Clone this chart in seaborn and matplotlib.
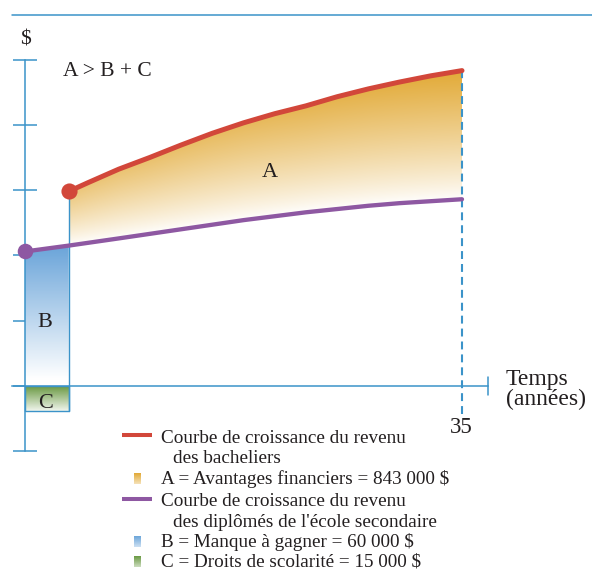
"""
Schematic: income growth of high-school graduates vs. bachelors.
A = financial benefits, B = lost earnings, C = tuition fees.
"""

import numpy as np
import pandas as pd
import matplotlib
matplotlib.use("Agg")  # no display
import matplotlib.pyplot as plt
from matplotlib.colors import to_rgb
from matplotlib.patches import Polygon, Rectangle
from matplotlib.lines import Line2D
import seaborn as sns

# ── data (time in years, income in axis-tick units) ─────────────────────────
YEARS_HS   = [0, 3.5, 7.5, 10, 12.5, 15, 17.5, 20, 22.5, 25, 27.5, 30, 32.5, 35]
INCOME_HS  = [2.06, 2.15, 2.26, 2.33, 2.40, 2.47, 2.54, 2.60, 2.66, 2.71, 2.76, 2.80, 2.83, 2.86]
YEARS_BAC  = [3.5, 5, 7.5, 10, 12.5, 15, 17.5, 20, 22.5, 25, 27.5, 30, 32.5, 35]
INCOME_BAC = [2.98, 3.11, 3.32, 3.50, 3.69, 3.87, 4.03, 4.17, 4.29, 4.43, 4.55, 4.655, 4.75, 4.83]
STUDY_YEARS = 3.5
TUITION     = 0.38          # depth of box C below the time axis
CAREER_END  = 35
Y_TICKS     = [-1, 0, 1, 2, 3, 4, 5]

LEGEND_LINES = [
    "Courbe de croissance du revenu",
    "des bacheliers",
    "A = Avantages financiers = 843 000 $",
    "Courbe de croissance du revenu",
    "des diplômés de l'école secondaire",
    "B = Manque à gagner = 60 000 $",
    "C = Droits de scolarité = 15 000 $",
]

# ── colours ────────────────────────────────────────────────────────────────
BLUE   = "#3b93c9"
RED    = "#d2473a"
PURPLE = "#8e58a2"
ORANGE = "#e2aa37"
SKY    = "#6da6da"
GREEN  = "#6b9a44"
INK    = "#231f20"

# ── pixel <-> data helpers (axes fill the whole figure) ─────────────────────
W, H = 592, 571
X0_PX, PX_PER_YEAR = 25, (462 - 25) / 35
Y0_PX, PX_PER_UNIT = 386, 65.3


def dx(px):
    return (px - X0_PX) / PX_PER_YEAR


def dy(py):
    return (Y0_PX - py) / PX_PER_UNIT


def ftext(px, py, s, **kw):
    kw.setdefault("color", INK)
    kw.setdefault("va", "baseline")
    fig.text(px / W, 1 - py / H, s, **kw)


def gradient(alpha, extent, color, clip=None, zorder=1):
    rgb = np.array(to_rgb(color))
    img = 1 - alpha[..., None] * (1 - rgb)
    im = ax.imshow(img, extent=extent, origin="lower", aspect="auto",
                   interpolation="bilinear", zorder=zorder)
    if clip is not None:
        im.set_clip_path(clip)
    return im


sns.set_theme(style="white")
plt.rcParams["font.family"] = ["Liberation Serif", "DejaVu Serif"]

fig = plt.figure(figsize=(W / 100, H / 100), dpi=100)
ax = fig.add_axes([0, 0, 1, 1])

# ── area A: between the two curves, orange fading to white ────────────────
hs_at_bac = np.interp(YEARS_BAC, YEARS_HS, INCOME_HS)
poly = ax.fill_between(YEARS_BAC, hs_at_bac, INCOME_BAC, facecolor="none", lw=0)
clip_a = Polygon(poly.get_paths()[0].vertices, closed=True, transform=ax.transData,
                 facecolor="none", edgecolor="none")
ax.add_patch(clip_a)
xs = np.linspace(STUDY_YEARS, CAREER_END, 400)
ys = np.linspace(1.9, 5.0, 300)
X, Y = np.meshgrid(xs, ys)
top = np.interp(X, YEARS_BAC, INCOME_BAC)
bot = np.interp(X, YEARS_HS, INCOME_HS)
t = np.clip((Y - bot) / (top - bot), 0, 1)
fade = 0.68 + 0.32 * (X - STUDY_YEARS) / (CAREER_END - STUDY_YEARS)
gradient(t ** 0.85 * fade, (xs[0], xs[-1], ys[0], ys[-1]), ORANGE, clip_a)

# ── box B: lost earnings during study years ─────────────────────────────────
b_years = [0, STUDY_YEARS]
b_top = np.interp(b_years, YEARS_HS, INCOME_HS)
poly_b = ax.fill_between(b_years, 0, b_top, facecolor="none", lw=0)
clip_b = Polygon(poly_b.get_paths()[0].vertices, closed=True, transform=ax.transData,
                 facecolor="none", edgecolor="none")
ax.add_patch(clip_b)
ys_b = np.linspace(0, 2.3, 200)
Yb = np.tile(ys_b[:, None], (1, 20))
gradient(np.clip((Yb - 0.1) / 2.0, 0, 1), (0, STUDY_YEARS, 0, 2.3), SKY, clip_b)

# ── box C: tuition below the axis ───────────────────────────────────────────
ys_c = np.linspace(-TUITION, 0, 60)
Yc = np.tile(ys_c[:, None], (1, 20))
gradient(0.1 + 0.9 * (Yc + TUITION) / TUITION, (0, STUDY_YEARS, -TUITION, 0), GREEN)
ax.add_patch(Rectangle((0, -TUITION), STUDY_YEARS, TUITION, facecolor="none",
                       edgecolor=BLUE, lw=1.0, zorder=2))
ax.plot([STUDY_YEARS, STUDY_YEARS], [-TUITION, INCOME_BAC[0]], color=BLUE, lw=1.0, zorder=2)

# ── axes ────────────────────────────────────────────────────────────────────
for side in ["top", "right"]:
    ax.spines[side].set_visible(False)
ax.spines["left"].set_position(("data", 0))
ax.spines["left"].set_bounds(Y_TICKS[0], Y_TICKS[-1])
ax.spines["bottom"].set_position(("data", 0))
ax.spines["bottom"].set_bounds(dx(12), dx(488))
for side in ["left", "bottom"]:
    ax.spines[side].set_color(BLUE)
    ax.spines[side].set_linewidth(1.1)
    ax.spines[side].set_zorder(2)
ax.set_yticks(Y_TICKS)
ax.set_yticklabels([])
ax.set_xticks([])
ax.tick_params(axis="y", left=True, direction="inout", length=17.3, width=1.1, color=BLUE)
ax.plot([dx(488), dx(488)], [dy(377), dy(395)], color=BLUE, lw=1.1)
ax.plot([CAREER_END, CAREER_END], [dy(414), dy(68)], color=BLUE, lw=1.5,
        dashes=(3.8, 2.4), zorder=2)
fig.add_artist(Line2D([12 / W, 1], [1 - 15 / H, 1 - 15 / H], transform=fig.transFigure,
                      color=BLUE, lw=1.1))

# ── income curves ──────────────────────────────────────────────────────────
hs = pd.DataFrame({"year": YEARS_HS, "income": INCOME_HS})
bac = pd.DataFrame({"year": YEARS_BAC, "income": INCOME_BAC})
sns.lineplot(data=hs, x="year", y="income", color=PURPLE, lw=3.1, ax=ax, zorder=3)
sns.lineplot(data=bac, x="year", y="income", color=RED, lw=3.6, ax=ax, zorder=3)
sns.scatterplot(x=[YEARS_HS[0]], y=[INCOME_HS[0]], color=PURPLE, s=125, lw=0, ax=ax, zorder=4)
sns.scatterplot(x=[YEARS_BAC[0]], y=[INCOME_BAC[0]], color=RED, s=135, lw=0, ax=ax, zorder=4)
ax.set_xlabel("")
ax.set_ylabel("")

# ── annotations ─────────────────────────────────────────────────────────────
ftext(25.5, 45, "$", fontsize=15.5, ha="center")
ftext(63, 76, "A > B + C", fontsize=15.5)
ftext(270, 177, "A", fontsize=16, ha="center")
ftext(45, 327, "B", fontsize=16, ha="center")
ftext(46, 408, "C", fontsize=16, ha="center")
ftext(506, 385, "Temps", fontsize=17)
ftext(506, 405, "(années)", fontsize=17)
ftext(461, 433, "35", fontsize=16.5, ha="center")

# ── legend (hand laid out) ──────────────────────────────────────────────────
baselines = [443, 463, 484, 506, 527, 547, 567]
indents   = [161, 173, 161, 161, 173, 161, 161]
for s, py, px in zip(LEGEND_LINES, baselines, indents):
    ftext(px, py, s, fontsize=13.8)
for py, c in [(435, RED), (499, PURPLE)]:
    fig.add_artist(Line2D([122 / W, 152 / W], [1 - py / H] * 2, transform=fig.transFigure,
                          color=c, lw=2.9, solid_capstyle="butt"))
sq = np.linspace(0.35, 1.0, 30)[:, None] * np.ones((1, 4))
for py, c in [(484, ORANGE), (547, SKY), (567, GREEN)]:
    gradient(sq, (dx(134), dx(141), dy(py), dy(py - 11)), c, zorder=3)
ax.set_xlim(dx(0), dx(W))
ax.set_ylim(dy(H), dy(0))

fig.savefig("out.png", dpi=100)
